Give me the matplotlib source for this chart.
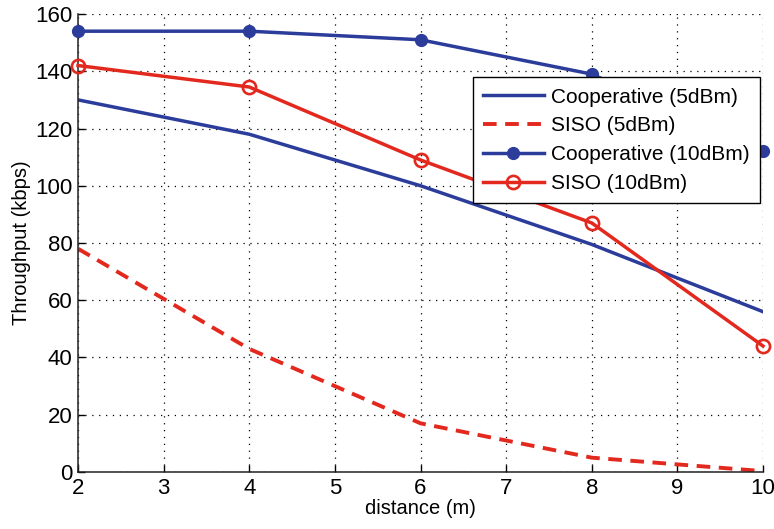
import matplotlib
matplotlib.use('Agg')
from matplotlib import pyplot as plt

plt.rcParams['font.family'] = ['Liberation Sans', 'DejaVu Sans']

distance = [2, 4, 6, 8, 10]
coop_5dbm = [130, 118, 100, 79.5, 56]
siso_5dbm = [78, 43, 17, 5, 0.3]
coop_10dbm = [154, 154, 151, 139, 112]
siso_10dbm = [142, 134.5, 109, 87, 44]

blue = '#2B3C9B'
red = '#E3281E'

fig = plt.figure(figsize=(7.74, 5.29), dpi=100)
ax = fig.add_axes([0.1008, 0.1078, 0.885, 0.8657])

ax.plot(distance, coop_5dbm, color=blue, linewidth=2.5, label='Cooperative (5dBm)')
ax.plot(distance, siso_5dbm, color=red, linewidth=2.8, linestyle=(0, (3.5, 2.2)), label='SISO (5dBm)')
ax.plot(distance, coop_10dbm, color=blue, linewidth=2.5, marker='o', markersize=8.5,
        label='Cooperative (10dBm)', clip_on=False, zorder=3)
ax.plot(distance, siso_10dbm, color=red, linewidth=2.5, marker='o', markersize=9.5,
        markerfacecolor='none', markeredgewidth=1.9, label='SISO (10dBm)', clip_on=False, zorder=3)

ax.set_xlim(2, 10)
ax.set_ylim(0, 160)
ax.set_xticks(range(2, 11))
ax.set_yticks(range(0, 161, 20))
ax.grid(True, color='black', linestyle=(0, (1, 4.5)), linewidth=0.9)
ax.tick_params(direction='in', labelsize=16, length=5, width=1, pad=4)
ax.spines['top'].set_visible(False)
ax.spines['right'].set_visible(False)
for s in ['left', 'bottom']:
    ax.spines[s].set_linewidth(1.1)
    ax.spines[s].set_color('#222222')

ax.set_xlabel('distance (m)', fontsize=14.5, labelpad=0)
ax.set_ylabel('Throughput (kbps)', fontsize=14.5, labelpad=3)

leg = ax.legend(loc='upper right', bbox_to_anchor=(0.9956, 0.862), fontsize=15,
                frameon=True, fancybox=False, framealpha=1, edgecolor='black',
                handlelength=2.9, borderpad=0.5, labelspacing=0.47, handletextpad=0.35,
                borderaxespad=0)
leg.get_frame().set_linewidth(1.0)
leg.set_zorder(5)

fig.savefig('out.png', dpi=100)
